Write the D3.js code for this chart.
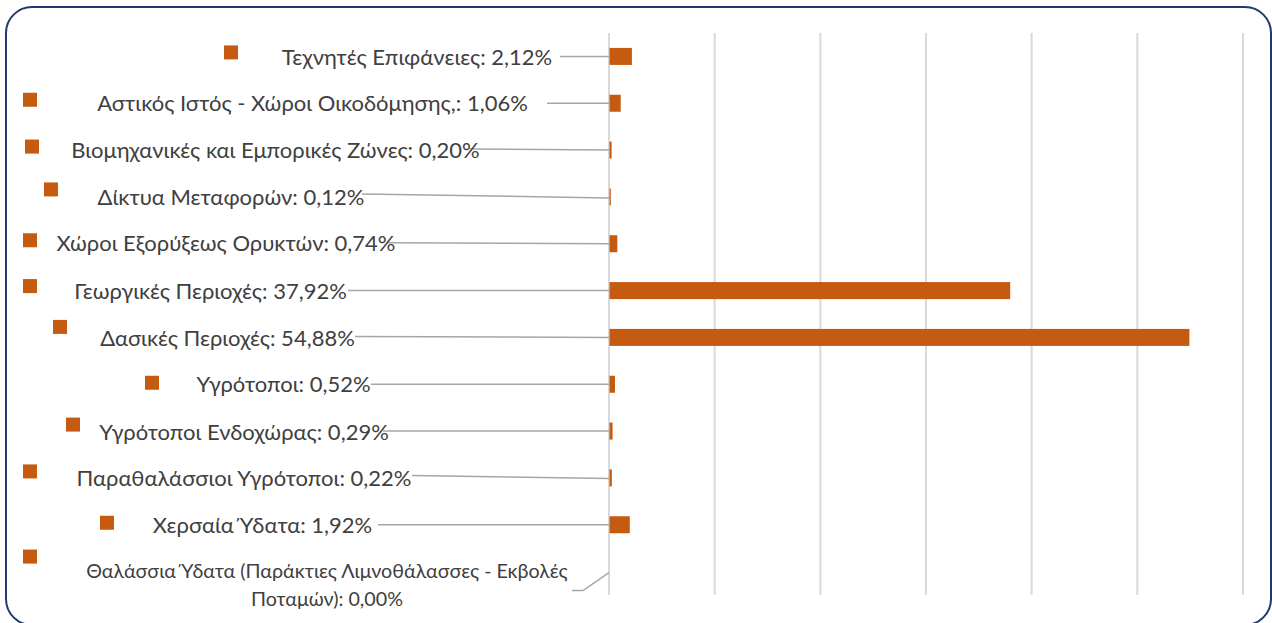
<!DOCTYPE html>
<html>
<head>
<meta charset="utf-8">
<script src="https://cdn.jsdelivr.net/npm/d3@7"></script>
<style>
  html, body { margin: 0; padding: 0; background: #ffffff; }
  svg { display: block; }
</style>
</head>
<body>
<svg id="chart" width="1272" height="623"></svg>
<script>
// ---- data ----
const categories = [
  "Τεχνητές Επιφάνειες",
  "Αστικός Ιστός - Χώροι Οικοδόμησης,",
  "Βιομηχανικές και Εμπορικές Ζώνες",
  "Δίκτυα Μεταφορών",
  "Χώροι Εξορύξεως Ορυκτών",
  "Γεωργικές Περιοχές",
  "Δασικές Περιοχές",
  "Υγρότοποι",
  "Υγρότοποι Ενδοχώρας",
  "Παραθαλάσσιοι Υγρότοποι",
  "Χερσαία Ύδατα",
  "Θαλάσσια Ύδατα (Παράκτιες Λιμνοθάλασσες - Εκβολές Ποταμών)"
];
const values = [2.12, 1.06, 0.20, 0.12, 0.74, 37.92, 54.88, 0.52, 0.29, 0.22, 1.92, 0.00];
const valueLabels = ["2,12%", "1,06%", "0,20%", "0,12%", "0,74%", "37,92%", "54,88%", "0,52%", "0,29%", "0,22%", "1,92%", "0,00%"];
const xTicks = [0, 10, 20, 30, 40, 50, 60];

// label lines (the last label wraps on two lines in the original)
const labelLines = [
  null, null, null, null, null, null, null, null, null, null, null,
  ["Θαλάσσια Ύδατα (Παράκτιες Λιμνοθάλασσες - Εκβολές", "Ποταμών): 0,00%"]
];

// ---- manual label layout (Excel dragged labels) ----
const labelLayout = [
  { textCx: 417,   textDy: 0.5, sqX: 224, sqDy: -4,   lx: 560, ldy: 0 },
  { textCx: 312.5, textDy: 0.5, sqX: 23,  sqDy: -3.5, lx: 547, ldy: 0 },
  { textCx: 275.5, textDy: 0.5, sqX: 25,  sqDy: -3.5, lx: 470, ldy: -1 },
  { textCx: 231,   textDy: 0.5, sqX: 44,  sqDy: -7.5, lx: 362, ldy: -3, ey: 1 },
  { textCx: 226,   textDy: 0,   sqX: 23,  sqDy: -3.5, lx: 387, ldy: -1 },
  { textCx: 210.5, textDy: 0.5, sqX: 23,  sqDy: -4.5, lx: 348, ldy: 0 },
  { textCx: 227.5, textDy: 0.5, sqX: 53,  sqDy: -10.5,lx: 355, ldy: -1 },
  { textCx: 283.5, textDy: 0.5, sqX: 145, sqDy: -1.5, lx: 371, ldy: 0 },
  { textCx: 244,   textDy: 1,   sqX: 66,  sqDy: -6.5, lx: 383, ldy: 0 },
  { textCx: 244,   textDy: 0.5, sqX: 23,  sqDy: -6.5, lx: 412, ldy: -2.5, ey: 0.5 },
  { textCx: 262.5, textDy: 0.5, sqX: 100, sqDy: -2,   lx: 378, ldy: 0 },
  { textCx: 327,   textDy: 0,   sqX: 23,  sqDy: -15,  lx: 572, ldy: 19 }
];

// ---- layout ----
const barColor = "#C55A11";
const textColor = "#404040";
const gridColor = "#D9D9D9";
const leaderColor = "#A6A6A6";
const fontFamily = "Lato, 'Open Sans', sans-serif";
const fontSize = 22;
const smallFontSize = 19.7;

const svg = d3.select("#chart");

// border
svg.append("rect")
  .attr("x", 6).attr("y", 7)
  .attr("width", 1265).attr("height", 618)
  .attr("rx", 26).attr("ry", 26)
  .attr("fill", "#ffffff")
  .attr("stroke", "#1F3A6E")
  .attr("stroke-width", 2);

const x = d3.scaleLinear().domain([0, 60]).range([609, 1243]);
const y = d3.scaleBand().domain(categories).range([33, 595]).paddingInner(0.637).paddingOuter(0.637 / 2);

// gridlines
svg.append("g").selectAll("line").data(xTicks).join("line")
  .attr("x1", d => x(d)).attr("x2", d => x(d))
  .attr("y1", 33).attr("y2", 595)
  .attr("stroke", gridColor).attr("stroke-width", 2);

// bars
svg.append("g").selectAll("rect").data(values).join("rect")
  .attr("x", x(0) + 0.5)
  .attr("y", (d, i) => y(categories[i]))
  .attr("width", d => Math.max(0, x(d) - x(0)))
  .attr("height", y.bandwidth())
  .attr("fill", barColor);

const cy = i => y(categories[i]) + y.bandwidth() / 2;

// leader lines
const leaders = svg.append("g");
values.forEach((v, i) => {
  const L = labelLayout[i];
  const sy = cy(i) + L.ldy;
  const ey = cy(i) + (L.ey || 0);
  if (i === values.length - 1) {
    leaders.append("path")
      .attr("d", `M${L.lx},${sy} L${L.lx + 11},${sy} L${x(0)},${cy(i) + 1}`)
      .attr("fill", "none").attr("stroke", leaderColor).attr("stroke-width", 1.5);
  } else {
    leaders.append("line")
      .attr("x1", L.lx).attr("y1", sy)
      .attr("x2", x(0)).attr("y2", ey)
      .attr("stroke", leaderColor).attr("stroke-width", 1.5);
  }
});

// labels
const labels = svg.append("g")
  .attr("font-family", fontFamily)
  .attr("font-size", fontSize)
  .attr("fill", textColor);

values.forEach((v, i) => {
  const L = labelLayout[i];
  const c = cy(i);
  labels.append("rect")
    .attr("x", L.sqX).attr("y", c + L.sqDy - 7)
    .attr("width", 14).attr("height", 14)
    .attr("fill", barColor);
  if (labelLines[i]) {
    labelLines[i].forEach((t, k) => {
      labels.append("text")
        .attr("x", L.textCx)
        .attr("y", c + L.textDy + k * 28)
        .attr("dy", "0.35em")
        .attr("text-anchor", "middle")
        .attr("font-size", smallFontSize)
        .text(t);
    });
  } else {
    labels.append("text")
      .attr("x", L.textCx)
      .attr("y", c + L.textDy)
      .attr("dy", "0.35em")
      .attr("text-anchor", "middle")
      .text(categories[i] + ": " + valueLabels[i]);
  }
});
</script>
</body>
</html>
